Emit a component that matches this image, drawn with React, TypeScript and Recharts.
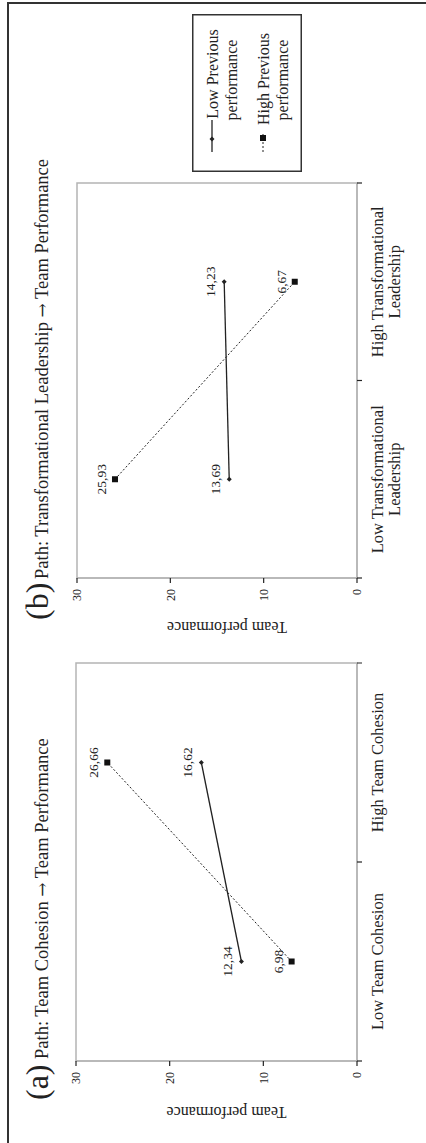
import { LineChart, Line, XAxis, YAxis, ReferenceArea, LabelList, Legend } from "recharts";

// figure is drawn landscape (1143 x 426) and turned a quarter left, like the scan
const categoriesA = ["Low Team Cohesion", "High Team Cohesion"];
const lowPrevA = [12.34, 16.62];
const highPrevA = [6.98, 26.66];

const categoriesB = ["Low Transformational Leadership", "High Transformational Leadership"];
const lowPrevB = [13.69, 14.23];
const highPrevB = [25.93, 6.67];

const yTicks = [0, 10, 20, 30];
const seriesNames = { low: "Low Previous performance", high: "High Previous performance" };
const seriesOrder = ["low", "high"];

const FONT = '"Liberation Serif", "Times New Roman", serif';
const INK = "#222";
const GRID = "#b4b4b4";

function wrap(text: string, max = 20): string[] {
  if (text.length <= max) return [text];
  const cut = text.lastIndexOf(" ");
  return [text.slice(0, cut), text.slice(cut + 1)];
}

const fmt = (v: any) => Number(v).toFixed(2).replace(".", ",");

function Diamond({ cx, cy }: any) {
  return <path d={`M${cx},${cy - 2.5}L${cx + 2.5},${cy}L${cx},${cy + 2.5}L${cx - 2.5},${cy}Z`} fill={INK} />;
}

function Square({ cx, cy }: any) {
  return <rect x={cx - 3} y={cy - 3} width={6} height={6} fill="#111" />;
}

function CategoryTick({ x, y, payload, categories }: any) {
  const v = payload.value;
  if (Number.isInteger(v)) {
    return <line x1={x} x2={x} y1={y} y2={y + 5} stroke={INK} strokeWidth={1.2} />;
  }
  const lines = wrap(categories[Math.floor(v)]);
  return (
    <text x={x} y={y + 20} textAnchor="middle" dominantBaseline="central" fontSize={16.5} fill={INK} fontFamily={FONT}>
      {lines.map((l, i) => (
        <tspan key={i} x={x} dy={i === 0 ? 0 : 17}>
          {l}
        </tspan>
      ))}
    </text>
  );
}

function yLabel(gap: number) {
  return (props: any) => {
    const vb = props.viewBox || {};
    const cx = vb.x + vb.width - gap;
    const cy = vb.y + vb.height / 2 + 10;
    return (
      <text
        x={cx}
        y={cy}
        transform={`rotate(-90 ${cx} ${cy})`}
        textAnchor="middle"
        dominantBaseline="central"
        fontSize={16}
        fill={INK}
        fontFamily={FONT}
      >
        Team performance
      </text>
    );
  };
}

function LegendBox({ payload }: any) {
  const items = [...(payload || [])].sort(
    (a: any, b: any) => seriesOrder.indexOf(a.dataKey) - seriesOrder.indexOf(b.dataKey)
  );
  return (
    <svg width={158} height={110} style={{ display: "block" }}>
      <rect x={0.75} y={0.75} width={156.5} height={108.5} fill="#fff" stroke="#333" strokeWidth={1.5} />
      {items.map((item: any, i: number) => {
        const top = i === 0 ? 20 : 71;
        const dashed = item.dataKey === "high";
        const lines = wrap(item.value, 14);
        return (
          <g key={item.dataKey}>
            <line x1={20} x2={dashed ? 40 : 52} y1={top} y2={top} stroke={INK} strokeWidth={dashed ? 1 : 1.3} strokeDasharray={dashed ? "2 2" : undefined} />
            {dashed ? <Square cx={34} cy={top} /> : <Diamond cx={33} cy={top} />}
            <text x={92} y={top} textAnchor="middle" dominantBaseline="central" fontSize={16} fill={INK} fontFamily={FONT}>
              {lines.map((l, k) => (
                <tspan key={k} x={k === 0 ? (dashed ? 93 : 98) : 92} dy={k === 0 ? 0 : 18.5}>
                  {l}
                </tspan>
              ))}
            </text>
          </g>
        );
      })}
    </svg>
  );
}

interface PanelProps {
  categories: string[];
  low: number[];
  high: number[];
  width: number;
  plotLeft: number;
  plotRight: number;
  plotTop: number;
  labelGap: number;
  withLegend?: boolean;
}

function Panel({ categories, low, high, width, plotLeft, plotRight, plotTop, labelGap, withLegend }: PanelProps) {
  const data = categories.map((c, i) => ({ x: i + 0.5, low: low[i], high: high[i] }));
  const xTicks = categories.flatMap((_, i) => [i, i + 0.5]).concat(categories.length);
  return (
    <LineChart
      width={width}
      height={426}
      data={data}
      margin={{ top: plotTop, right: width - plotRight, bottom: 19, left: plotLeft - 40 }}
    >
      <ReferenceArea x1={0} x2={categories.length} y1={0} y2={30} fill="none" stroke={GRID} strokeWidth={1.5} />
      <XAxis
        dataKey="x"
        type="number"
        domain={[0, categories.length]}
        ticks={xTicks}
        interval={0}
        height={50}
        tickSize={0}
        tickMargin={0}
        tickLine={false}
        axisLine={{ stroke: GRID, strokeWidth: 1.5 }}
        tick={(p: any) => <CategoryTick {...p} categories={categories} />}
      />
      <YAxis
        width={40}
        domain={[0, 30]}
        ticks={yTicks}
        interval={0}
        tickSize={5}
        tickMargin={6}
        axisLine={{ stroke: GRID, strokeWidth: 1.5 }}
        tickLine={{ stroke: INK, strokeWidth: 1.2 }}
        tick={{ fontSize: 12, fill: INK, fontFamily: FONT }}
        label={yLabel(labelGap)}
      />
      <Line
        type="linear"
        dataKey="low"
        name={seriesNames.low}
        stroke={INK}
        strokeWidth={1.3}
        dot={(p: any) => <Diamond key={`l${p.index}`} cx={p.cx} cy={p.cy} />}
        activeDot={false}
        isAnimationActive={false}
      >
        <LabelList dataKey="low" position="top" offset={9} formatter={fmt} fontSize={13.5} fill={INK} fontFamily={FONT} />
      </Line>
      <Line
        type="linear"
        dataKey="high"
        name={seriesNames.high}
        stroke={INK}
        strokeWidth={1}
        strokeDasharray="2 2"
        dot={(p: any) => <Square key={`h${p.index}`} cx={p.cx} cy={p.cy} />}
        activeDot={false}
        isAnimationActive={false}
      >
        <LabelList dataKey="high" position="top" offset={9} formatter={fmt} fontSize={13.5} fill={INK} fontFamily={FONT} />
      </Line>
      {withLegend && (
        <Legend
          layout="vertical"
          align="center"
          verticalAlign="middle"
          width={158}
          height={110}
          wrapperStyle={{ left: 481, top: 192, width: 158, height: 110 }}
          content={(p: any) => <LegendBox payload={p.payload} />}
        />
      )}
    </LineChart>
  );
}

function Title({ x, tag, text }: { x: number; tag: string; text: string }) {
  const [from, to] = text.split(" → ");
  return (
    <>
      <text x={x} y={48} fontSize={32} fill={INK} fontFamily={FONT}>{tag}</text>
      <text x={x + 41} y={48} fontSize={18.5} fill={INK} fontFamily={FONT}>
        {from + " "}
        <tspan fontFamily='"DejaVu Serif", serif' fontSize={17}>→</tspan>
        {" " + to}
      </text>
    </>
  );
}

export default function App() {
  return (
    <div style={{ position: "absolute", left: 0, top: 0, width: 426, height: 1143, overflow: "hidden", background: "#fff" }}>
      <div
        style={{
          position: "absolute",
          left: 0,
          top: 0,
          width: 1143,
          height: 426,
          transformOrigin: "0 0",
          transform: "translate(0px, 1143px) rotate(-90deg)",
          fontFamily: FONT,
        }}
      >
        <div
          style={{
            position: "absolute",
            left: 0,
            top: 7,
            width: 1141,
            height: 430,
            boxSizing: "border-box",
            borderTop: "2px solid #333",
            borderRight: "2px solid #333",
          }}
        />
        <svg width={1143} height={426} style={{ position: "absolute", left: 0, top: 0 }}>
          <Title x={43} tag="(a)" text="Path: Team Cohesion → Team Performance" />
          <Title x={523} tag="(b)" text="Path: Transformational Leadership → Team Performance" />
        </svg>
        <div style={{ position: "absolute", left: 0, top: 0 }}>
          <Panel categories={categoriesA} low={lowPrevA} high={highPrevA} width={490} plotLeft={82} plotRight={480} plotTop={76} labelGap={51} />
        </div>
        <div style={{ position: "absolute", left: 490, top: 0 }}>
          <Panel categories={categoriesB} low={lowPrevB} high={highPrevB} width={653} plotLeft={75} plotRight={470} plotTop={77} labelGap={49} withLegend />
        </div>
      </div>
    </div>
  );
}
